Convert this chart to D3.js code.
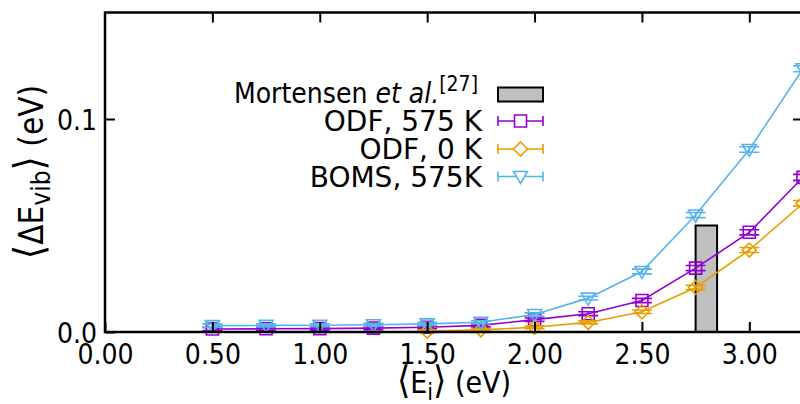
<!DOCTYPE html>
<html>
<head>
<meta charset="utf-8">
<script src="https://cdn.jsdelivr.net/npm/d3@7"></script>
<style>
  body { margin: 0; background: #fff; }
  svg { display: block; }
</style>
</head>
<body>
<svg id="chart" width="800" height="404"></svg>
<script>
// data
var energies = [0.50, 0.75, 1.00, 1.25, 1.50, 1.75, 2.00, 2.25, 2.50, 2.75, 3.00, 3.25];
var odf575 = [0.0014, 0.0015, 0.0016, 0.0018, 0.0022, 0.0031, 0.0058, 0.0086, 0.0148, 0.0300, 0.0468, 0.0726];
var odf575Err = [0.0007, 0.0007, 0.0007, 0.0007, 0.0007, 0.0007, 0.0008, 0.0009, 0.0010, 0.0012, 0.0012, 0.0014];
var odf0Energies = [1.50, 1.75, 2.00, 2.25, 2.50, 2.75, 3.00, 3.25];
var odf0 = [0.0004, 0.0010, 0.0022, 0.0045, 0.0095, 0.0209, 0.0385, 0.0604];
var odf0Err = [0.0005, 0.0005, 0.0006, 0.0007, 0.0008, 0.0010, 0.0012, 0.0013];
var boms575 = [0.0030, 0.0031, 0.0032, 0.0034, 0.0038, 0.0046, 0.0082, 0.0159, 0.0284, 0.0549, 0.0857, 0.1236];
var boms575Err = [0.0007, 0.0007, 0.0007, 0.0007, 0.0007, 0.0007, 0.0008, 0.0009, 0.0011, 0.0012, 0.0013, 0.0014];
var mortensenRange = [2.75, 2.85];
var mortensenValue = 0.05;
var xTicks = [0.0, 0.5, 1.0, 1.5, 2.0, 2.5, 3.0];
var yTicks = [0.0, 0.1];

var svg = d3.select('#chart');
var plotLeft = 105, plotRight = 803, plotTop = 12.5, plotBottom = 332;

var x = d3.scaleLinear().domain([0, 3.25]).range([plotLeft, plotRight]);
var y = d3.scaleLinear().domain([0, 0.15]).range([plotBottom, plotTop]);

var tickFont = '"DejaVu Sans Condensed", "DejaVu Sans", sans-serif';
var legendFont = '"DejaVu Sans", sans-serif';

// reference bar
svg.append('rect')
  .attr('x', x(mortensenRange[0]))
  .attr('y', y(mortensenValue))
  .attr('width', x(mortensenRange[1]) - x(mortensenRange[0]))
  .attr('height', y(0) - y(mortensenValue))
  .attr('fill', '#c0c0c0')
  .attr('stroke', '#000')
  .attr('stroke-width', 2);

var markers = {
  square: 'M-6,-6L6,-6L6,6L-6,6Z',
  diamond: 'M0,-7L7,0L0,7L-7,0Z',
  triangle: 'M-7,-5L7,-5L0,7Z'
};

var series = [
  {name: 'ODF, 575 K', xs: energies, ys: odf575, err: odf575Err, color: '#9400d3', marker: 'square'},
  {name: 'ODF, 0 K', xs: odf0Energies, ys: odf0, err: odf0Err, color: '#e69f00', marker: 'diamond'},
  {name: 'BOMS, 575K', xs: energies, ys: boms575, err: boms575Err, color: '#56b4e9', marker: 'triangle'}
];

series.forEach(function (s) {
  var pts = s.xs.map(function (d, i) { return {x: d, y: s.ys[i], e: s.err[i]}; });
  var g = svg.append('g');

  g.append('path')
    .datum(pts)
    .attr('fill', 'none')
    .attr('stroke', s.color)
    .attr('stroke-width', 1.6)
    .attr('d', d3.line().x(function (d) { return x(d.x); }).y(function (d) { return y(d.y); }));

  var p = g.selectAll('.pt').data(pts).enter().append('g')
    .attr('transform', function (d) { return 'translate(' + x(d.x) + ',' + y(d.y) + ')'; });

  p.append('path')
    .attr('d', function (d) {
      var a = y(d.y + d.e) - y(d.y), b = y(d.y - d.e) - y(d.y);
      return 'M0,' + a + 'L0,' + b + 'M-10,' + a + 'L10,' + a + 'M-10,' + b + 'L10,' + b;
    })
    .attr('stroke', s.color)
    .attr('stroke-width', 1.6)
    .attr('fill', 'none');

  p.append('path')
    .attr('d', markers[s.marker])
    .attr('fill', 'none')
    .attr('stroke', s.color)
    .attr('stroke-width', 1.6);
});

// axes with inward ticks on all four sides
var xAxis = svg.append('g').attr('transform', 'translate(0,' + plotBottom + ')')
  .call(d3.axisBottom(x).tickValues(xTicks).tickSize(-10).tickPadding(12).tickFormat(d3.format('.2f')));
var yAxis = svg.append('g').attr('transform', 'translate(' + plotLeft + ',0)')
  .call(d3.axisLeft(y).tickValues(yTicks).tickSize(-10).tickPadding(8).tickFormat(d3.format('.1f')));
var xTop = svg.append('g').attr('transform', 'translate(0,' + plotTop + ')')
  .call(d3.axisTop(x).tickValues(xTicks.slice(1)).tickSize(-10).tickFormat(''));
var yRight = svg.append('g').attr('transform', 'translate(' + plotRight + ',0)')
  .call(d3.axisRight(y).tickValues(yTicks.slice(1)).tickSize(-10).tickFormat(''));

[xAxis, yAxis, xTop, yRight].forEach(function (a) {
  a.select('.domain').remove();
  a.selectAll('line').attr('stroke', '#000').attr('stroke-width', 2);
  a.selectAll('text').attr('fill', '#000').style('font-family', tickFont).style('font-size', '28px');
});
yAxis.selectAll('text').attr('dy', '0.36em');

svg.append('rect')
  .attr('x', plotLeft).attr('y', plotTop)
  .attr('width', plotRight - plotLeft).attr('height', plotBottom - plotTop)
  .attr('fill', 'none')
  .attr('stroke', '#000')
  .attr('stroke-width', 2.5);

// axis labels
var xl = svg.append('text')
  .attr('x', (plotLeft + plotRight) / 2).attr('y', 393)
  .attr('text-anchor', 'middle')
  .style('font-family', tickFont).style('font-size', '30px');
xl.append('tspan').style('font-size', '38px').text('\u27E8');
xl.append('tspan').text('E');
xl.append('tspan').attr('dy', 7).style('font-size', '23px').text('i');
xl.append('tspan').attr('dy', -7).style('font-size', '38px').text('\u27E9');
xl.append('tspan').text(' (eV)');

var yl = svg.append('text')
  .attr('transform', 'translate(43,172) rotate(-90)')
  .attr('text-anchor', 'middle')
  .style('font-family', tickFont).style('font-size', '33px');
yl.append('tspan').style('font-size', '41px').text('\u27E8');
yl.append('tspan').text('\u0394E');
yl.append('tspan').attr('dy', 7).style('font-size', '26px').text('vib');
yl.append('tspan').attr('dy', -7).style('font-size', '41px').text('\u27E9');
yl.append('tspan').text(' (eV)');

// legend
var legX = 482, sampleL = 498, sampleR = 543;
var mt = svg.append('text')
  .attr('x', legX - 4).attr('y', 103)
  .attr('text-anchor', 'end')
  .style('font-family', tickFont).style('font-size', '28px');
mt.append('tspan').text('Mortensen ');
mt.append('tspan').style('font-style', 'italic').text('et al.');
mt.append('tspan').attr('dy', -12).style('font-size', '21px').text('[27]');

svg.append('rect')
  .attr('x', sampleL).attr('y', 87.5)
  .attr('width', sampleR - sampleL).attr('height', 14)
  .attr('fill', '#c0c0c0').attr('stroke', '#000').attr('stroke-width', 2);

var rowY = [121, 149, 176.5];
series.forEach(function (s, i) {
  var cy = rowY[i];
  svg.append('text')
    .attr('x', legX).attr('y', cy + 10)
    .attr('text-anchor', 'end')
    .style('font-family', legendFont).style('font-size', '28px')
    .text(s.name);
  svg.append('path')
    .attr('d', 'M' + sampleL + ',' + cy + 'L' + sampleR + ',' + cy +
      'M' + sampleL + ',' + (cy - 5) + 'L' + sampleL + ',' + (cy + 5) +
      'M' + sampleR + ',' + (cy - 5) + 'L' + sampleR + ',' + (cy + 5))
    .attr('stroke', s.color).attr('stroke-width', 1.6).attr('fill', 'none');
  svg.append('path')
    .attr('transform', 'translate(' + ((sampleL + sampleR) / 2) + ',' + cy + ')')
    .attr('d', markers[s.marker])
    .attr('fill', '#fff').attr('stroke', s.color).attr('stroke-width', 1.6);
});
</script>
</body>
</html>
